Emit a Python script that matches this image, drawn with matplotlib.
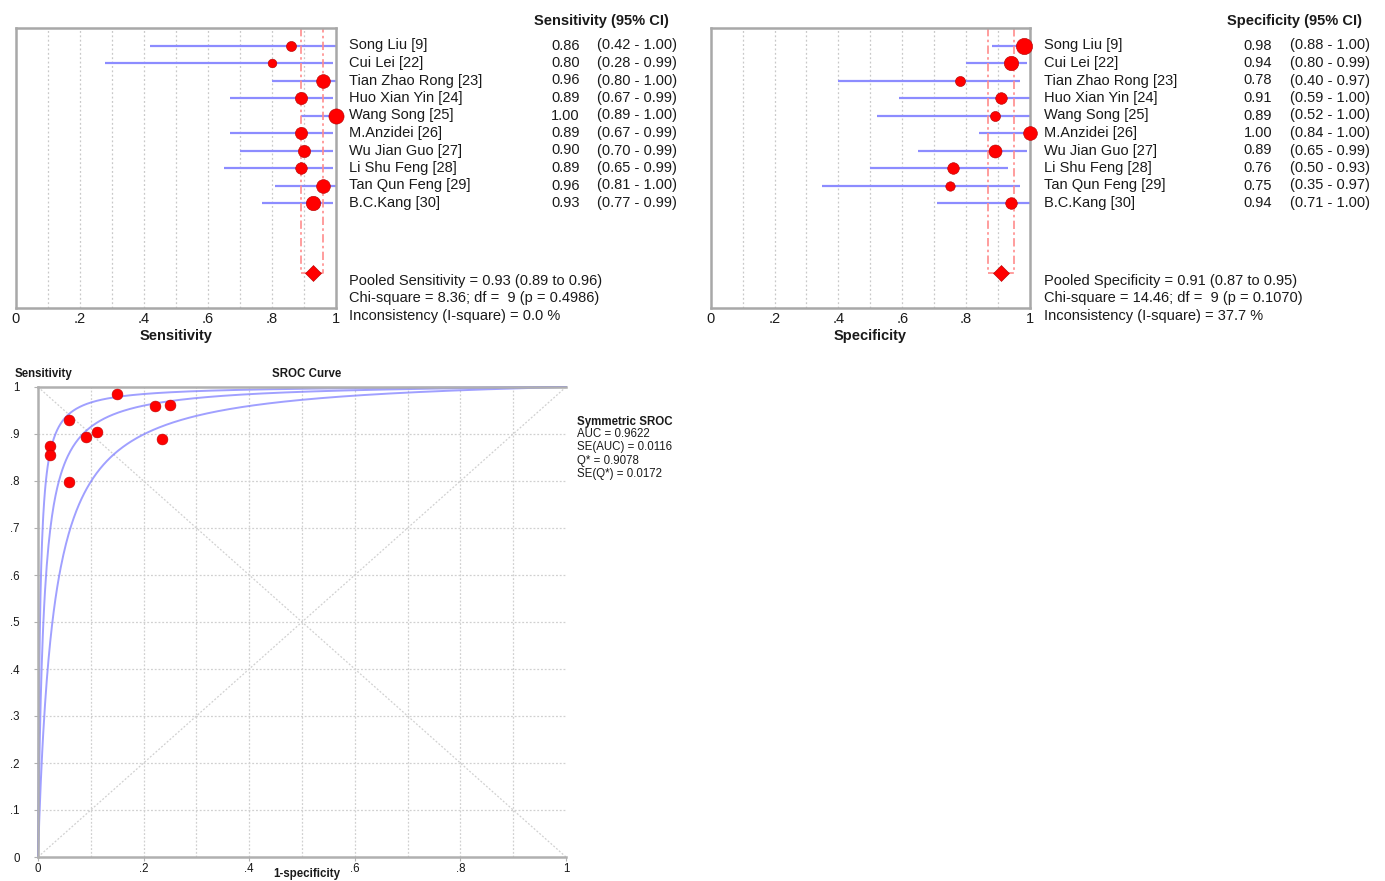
import numpy as np
import matplotlib
matplotlib.use("Agg")
import matplotlib.pyplot as plt

plt.rcParams['font.family'] = ['Liberation Sans', 'DejaVu Sans']

studies = ["Song Liu [9]", "Cui Lei [22]", "Tian Zhao Rong [23]", "Huo Xian Yin [24]",
           "Wang Song [25]", "M.Anzidei [26]", "Wu Jian Guo [27]", "Li Shu Feng [28]",
           "Tan Qun Feng [29]", "B.C.Kang [30]"]

sens = [0.86, 0.80, 0.96, 0.89, 1.00, 0.89, 0.90, 0.89, 0.96, 0.93]
sens_lo = [0.42, 0.28, 0.80, 0.67, 0.89, 0.67, 0.70, 0.65, 0.81, 0.77]
sens_hi = [1.00, 0.99, 1.00, 0.99, 1.00, 0.99, 0.99, 0.99, 1.00, 0.99]
sens_size = [9.3, 8.0, 12.7, 11.3, 14.0, 11.3, 11.3, 10.7, 12.7, 13.3]

spec = [0.98, 0.94, 0.78, 0.91, 0.89, 1.00, 0.89, 0.76, 0.75, 0.94]
spec_lo = [0.88, 0.80, 0.40, 0.59, 0.52, 0.84, 0.65, 0.50, 0.35, 0.71]
spec_hi = [1.00, 0.99, 0.97, 1.00, 1.00, 1.00, 0.99, 0.93, 0.97, 1.00]
spec_size = [15.0, 13.3, 9.3, 10.7, 9.3, 12.7, 12.0, 10.7, 8.7, 10.7]

pooled_sens = (0.93, 0.89, 0.96)
pooled_spec = (0.91, 0.87, 0.95)

sens_stats = ["Pooled Sensitivity = 0.93 (0.89 to 0.96)",
              "Chi-square = 8.36; df =  9 (p = 0.4986)",
              "Inconsistency (I-square) = 0.0 %"]
spec_stats = ["Pooled Specificity = 0.91 (0.87 to 0.95)",
              "Chi-square = 14.46; df =  9 (p = 0.1070)",
              "Inconsistency (I-square) = 37.7 %"]

forest_ticks = [0, 0.2, 0.4, 0.6, 0.8, 1.0]
forest_ticklabels = ["0", ".2", ".4", ".6", ".8", "1"]

# SROC data (1-specificity, sensitivity) as plotted
sroc_fpr = [0.023, 0.023, 0.059, 0.059, 0.091, 0.112, 0.150, 0.222, 0.250, 0.235]
sroc_tpr = [0.874, 0.855, 0.930, 0.798, 0.894, 0.904, 0.985, 0.960, 0.962, 0.889]
q_star = 0.9078
band_offsets = [-1.0, 0.0, 1.0]   # in log diagnostic odds ratio
sroc_legend = ["AUC = 0.9622", "SE(AUC) = 0.0116", "Q* = 0.9078", "SE(Q*) = 0.0172"]

sroc_yticks = [0, .1, .2, .3, .4, .5, .6, .7, .8, .9, 1]
sroc_yticklabels = ["0", ".1", ".2", ".3", ".4", ".5", ".6", ".7", ".8", ".9", "1"]
sroc_xticks = [0, .2, .4, .6, .8, 1]
sroc_xticklabels = ["0", ".2", ".4", ".6", ".8", "1"]

W, H = 1385, 881
fig = plt.figure(figsize=(W / 100, H / 100), dpi=100)

FRAME = '#a8a8a8'
CI_COL = '#8c8cff'
RED = '#ff0000'
TXT = '#1a1a1a'
FS = 10.5
SFS = 8.3


def forest(left_px, width_px, vals, lo, hi, sizes, pooled, header, stats, xlabel, name_x, val_x, ci_x, head_x):
    ax = fig.add_axes([left_px / W, 1 - 308 / H, width_px / W, 280 / H])
    ax.set_xlim(0, 1)
    ax.set_ylim(16, 0)
    for g in np.arange(0.1, 1.0, 0.1):
        ax.axvline(g, color='#c8c8c8', lw=0.9, ls=(0, (1.5, 2)), zorder=0)
    rows = np.arange(1, len(vals) + 1)
    for r, v, l, h, s in zip(rows, vals, lo, hi, sizes):
        ax.plot([l, h], [r, r], color=CI_COL, lw=1.6, zorder=2, solid_capstyle='butt')
        ax.plot([v], [r], 'o', ms=s * 0.78, color=RED, mec='#b00000', mew=0.4, zorder=3, clip_on=False)
    p, pl, ph = pooled
    ax.plot([pl, pl, ph, ph], [0, 14, 14, 0], color='#ff8c8c', lw=1.2, ls=(0, (5, 2, 1.5, 2)), zorder=2)
    ax.plot([p], [14], 'D', ms=8.5, color=RED, mec='#b00000', mew=0.4, zorder=3)
    for sp in ax.spines.values():
        sp.set_color(FRAME)
        sp.set_linewidth(1.8)
    ax.set_yticks([])
    ax.set_xticks(forest_ticks)
    ax.set_xticklabels(forest_ticklabels, fontsize=FS, color=TXT)
    ax.tick_params(axis='x', length=0, pad=3)
    ax.set_xlabel(xlabel, fontsize=FS, fontweight='bold', color=TXT, labelpad=2)
    tr = ax.get_yaxis_transform()
    for r, name, v, l, h in zip(rows, studies, vals, lo, hi):
        ax.text(name_x, r, name, transform=tr, fontsize=FS, va='center', ha='left', color=TXT)
        ax.text(val_x, r, f"{v:.2f}", transform=tr, fontsize=FS, va='center', ha='right', color=TXT)
        ax.text(ci_x, r, f"({l:.2f} - {h:.2f})", transform=tr, fontsize=FS, va='center', ha='left', color=TXT)
    ax.text(head_x, -0.42, header, transform=tr, fontsize=FS, fontweight='bold', va='center', ha='right',
            color=TXT, clip_on=False)
    for yy, s in zip([14.44, 15.41, 16.43], stats):
        ax.text(name_x, yy, s, transform=tr, fontsize=FS, va='center', ha='left', color=TXT, clip_on=False)
    return ax


forest(15.7, 320, sens, sens_lo, sens_hi, sens_size, pooled_sens, "Sensitivity (95% CI)",
       sens_stats, "Sensitivity", 1.0416, 1.7634, 1.8154, 2.0416)
forest(710.7, 319.3, spec, spec_lo, spec_hi, spec_size, pooled_spec, "Specificity (95% CI)",
       spec_stats, "Specificity", 1.0439, 1.758, 1.815, 2.04)

# SROC
ax = fig.add_axes([38 / W, 1 - 857 / H, 528 / W, 470 / H])
ax.set_xlim(0, 1)
ax.set_ylim(0, 1)
for g in np.arange(0.1, 1.0, 0.1):
    ax.axvline(g, color='#d0d0d0', lw=0.9, ls=(0, (1.5, 1.5)), zorder=0)
    ax.axhline(g, color='#d0d0d0', lw=0.9, ls=(0, (1.5, 1.5)), zorder=0)
ax.plot([0, 1], [1, 0], color='#d0d0d0', lw=0.9, ls=(0, (1.5, 1.5)), zorder=0)
ax.plot([0, 1], [0, 1], color='#d0d0d0', lw=0.9, ls=(0, (1.5, 1.5)), zorder=0)

a0 = 2 * np.log(q_star / (1 - q_star))
fpr = np.concatenate([np.linspace(1e-5, 0.01, 400), np.linspace(0.01, 1, 600)])
for off in band_offsets:
    a = a0 + off
    tpr = 1 / (1 + np.exp(-(a + np.log(fpr / (1 - fpr + 1e-12)))))
    ax.plot(fpr, tpr, color='#7878ff', lw=1.4, alpha=0.7, zorder=2, clip_on=False)

ax.plot(sroc_fpr, sroc_tpr, 'o', ms=7.8, color=RED, mec='#c00000', mew=0.4, zorder=4, clip_on=False)

for k in ['left', 'bottom', 'top']:
    ax.spines[k].set_color('#b0b0b0')
    ax.spines[k].set_linewidth(1.8)
ax.spines['right'].set_visible(False)
ax.set_yticks(sroc_yticks)
ax.set_yticklabels(sroc_yticklabels, fontsize=SFS, color=TXT)
ax.set_xticks(sroc_xticks)
ax.set_xticklabels(sroc_xticklabels, fontsize=SFS, color=TXT)
ax.tick_params(axis='y', length=3, color='#b0b0b0', pad=10)
ax.tick_params(axis='x', length=3, color='#b0b0b0', pad=1)
fig.text(307 / W, 1 - 874 / H, "1-specificity", fontsize=SFS, fontweight='bold', color=TXT,
         va='center', ha='center')
fig.text(15 / W, 1 - 374 / H, "Sensitivity", fontsize=SFS, fontweight='bold', color=TXT, va='center', ha='left')
fig.text(307 / W, 1 - 374 / H, "SROC Curve", fontsize=SFS, fontweight='bold', color=TXT, va='center', ha='center')
fig.text(577 / W, 1 - 422 / H, "Symmetric SROC", fontsize=SFS, fontweight='bold', color=TXT, va='center', ha='left')
for yy, s in zip([434, 447, 461, 474], sroc_legend):
    fig.text(577 / W, 1 - yy / H, s, fontsize=SFS, color=TXT, va='center', ha='left')

fig.savefig("out.png", dpi=100)
